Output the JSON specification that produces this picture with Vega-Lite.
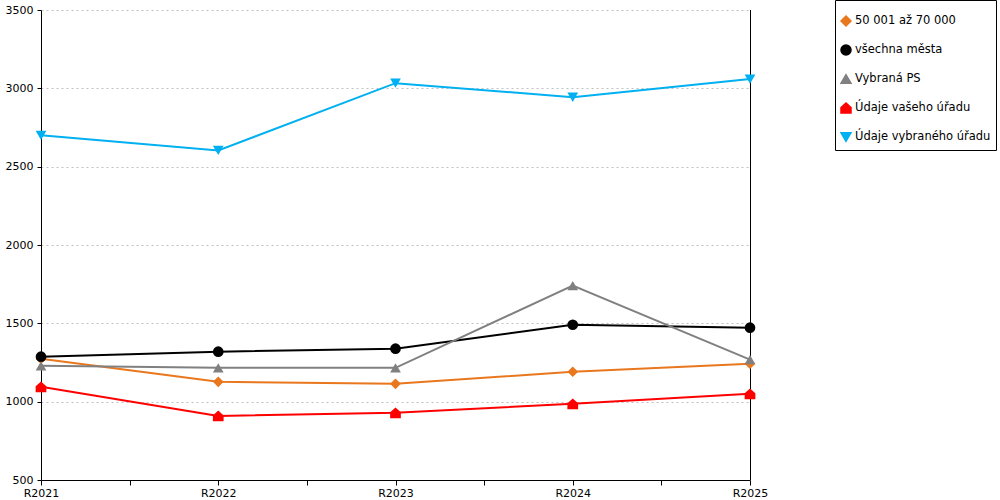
{
  "$schema": "https://vega.github.io/schema/vega-lite/v6.json",
  "width": 709,
  "height": 470,
  "autosize": "none",
  "padding": {"left": 41, "top": 10, "right": 250, "bottom": 20},
  "background": "white",
  "config": {
    "view": {"stroke": null},
    "font": "DejaVu Sans",
    "axis": {
      "labelFont": "DejaVu Sans",
      "labelFontSize": 11,
      "labelColor": "black",
      "domainColor": "black",
      "tickColor": "black",
      "title": null
    },
    "legend": {
      "labelFont": "DejaVu Sans",
      "labelFontSize": 11.5,
      "labelColor": "black"
    }
  },
  "data": {
    "values": [
      {"rok": 2021, "rada": "50 001 až 70 000", "hodnota": 1274},
      {"rok": 2022, "rada": "50 001 až 70 000", "hodnota": 1127},
      {"rok": 2023, "rada": "50 001 až 70 000", "hodnota": 1114},
      {"rok": 2024, "rada": "50 001 až 70 000", "hodnota": 1191},
      {"rok": 2025, "rada": "50 001 až 70 000", "hodnota": 1242},
      {"rok": 2021, "rada": "všechna města", "hodnota": 1287},
      {"rok": 2022, "rada": "všechna města", "hodnota": 1319},
      {"rok": 2023, "rada": "všechna města", "hodnota": 1338},
      {"rok": 2024, "rada": "všechna města", "hodnota": 1491},
      {"rok": 2025, "rada": "všechna města", "hodnota": 1472},
      {"rok": 2021, "rada": "Vybraná PS", "hodnota": 1229},
      {"rok": 2022, "rada": "Vybraná PS", "hodnota": 1216},
      {"rok": 2023, "rada": "Vybraná PS", "hodnota": 1216},
      {"rok": 2024, "rada": "Vybraná PS", "hodnota": 1741},
      {"rok": 2025, "rada": "Vybraná PS", "hodnota": 1268},
      {"rok": 2021, "rada": "Údaje vašeho úřadu", "hodnota": 1095},
      {"rok": 2022, "rada": "Údaje vašeho úřadu", "hodnota": 909},
      {"rok": 2023, "rada": "Údaje vašeho úřadu", "hodnota": 929},
      {"rok": 2024, "rada": "Údaje vašeho úřadu", "hodnota": 986},
      {"rok": 2025, "rada": "Údaje vašeho úřadu", "hodnota": 1050},
      {"rok": 2021, "rada": "Údaje vybraného úřadu", "hodnota": 2700},
      {"rok": 2022, "rada": "Údaje vybraného úřadu", "hodnota": 2604},
      {"rok": 2023, "rada": "Údaje vybraného úřadu", "hodnota": 3033},
      {"rok": 2024, "rada": "Údaje vybraného úřadu", "hodnota": 2943},
      {"rok": 2025, "rada": "Údaje vybraného úřadu", "hodnota": 3059}
    ]
  },
  "layer": [
    {
      "mark": {"type": "rule", "color": "black", "strokeWidth": 1, "xOffset": 0.5},
      "encoding": {"x": {"datum": 2025, "type": "quantitative"}}
    },
    {
      "mark": {"type": "line", "strokeWidth": 2, "point": {"filled": true, "size": 115, "opacity": 1}},
      "encoding": {
        "x": {
          "field": "rok",
          "type": "quantitative",
          "scale": {"domain": [2021, 2025], "nice": false, "zero": false},
          "axis": {
            "values": [2021, 2021.5, 2022, 2022.5, 2023, 2023.5, 2024, 2024.5, 2025],
            "labelExpr": "datum.value % 1 == 0 ? 'R' + datum.value : ''",
            "labelFlush": false,
            "labelOverlap": false,
            "grid": false,
            "tickSize": 5,
            "labelPadding": 2
          }
        },
        "y": {
          "field": "hodnota",
          "type": "quantitative",
          "scale": {"domain": [500, 3500], "nice": false, "zero": false},
          "axis": {
            "values": [500, 1000, 1500, 2000, 2500, 3000, 3500],
            "format": "d",
            "grid": true,
            "gridColor": "#c0c0c0",
            "gridDash": [2, 3],
            "tickSize": 4,
            "labelPadding": 4
          }
        },
        "color": {
          "field": "rada",
          "type": "nominal",
          "scale": {
            "domain": ["50 001 až 70 000", "všechna města", "Vybraná PS", "Údaje vašeho úřadu", "Údaje vybraného úřadu"],
            "range": ["#E8771E", "#000000", "#808080", "#FF0000", "#00B0F0"]
          },
          "legend": {
            "title": " ",
            "titleFontSize": 8,
            "titlePadding": 2,
            "orient": "none",
            "legendX": 794,
            "legendY": -10,
            "strokeColor": "black",
            "fillColor": "white",
            "padding": 5,
            "rowPadding": 13,
            "symbolSize": 100,
            "labelLimit": 300,
            "labelOffset": 3
          }
        },
        "shape": {
          "field": "rada",
          "type": "nominal",
          "scale": {
            "domain": ["50 001 až 70 000", "všechna města", "Vybraná PS", "Údaje vašeho úřadu", "Údaje vybraného úřadu"],
            "range": ["diamond", "circle", "triangle-up", "M-1,1L-1,-0.1L0,-1L1,-0.1L1,1Z", "triangle-down"]
          },
          "legend": {
            "title": " ",
            "titleFontSize": 8,
            "titlePadding": 2,
            "orient": "none",
            "legendX": 794,
            "legendY": -10,
            "strokeColor": "black",
            "fillColor": "white",
            "padding": 5,
            "rowPadding": 13,
            "symbolSize": 100,
            "labelLimit": 300,
            "labelOffset": 3
          }
        }
      }
    }
  ]
}
